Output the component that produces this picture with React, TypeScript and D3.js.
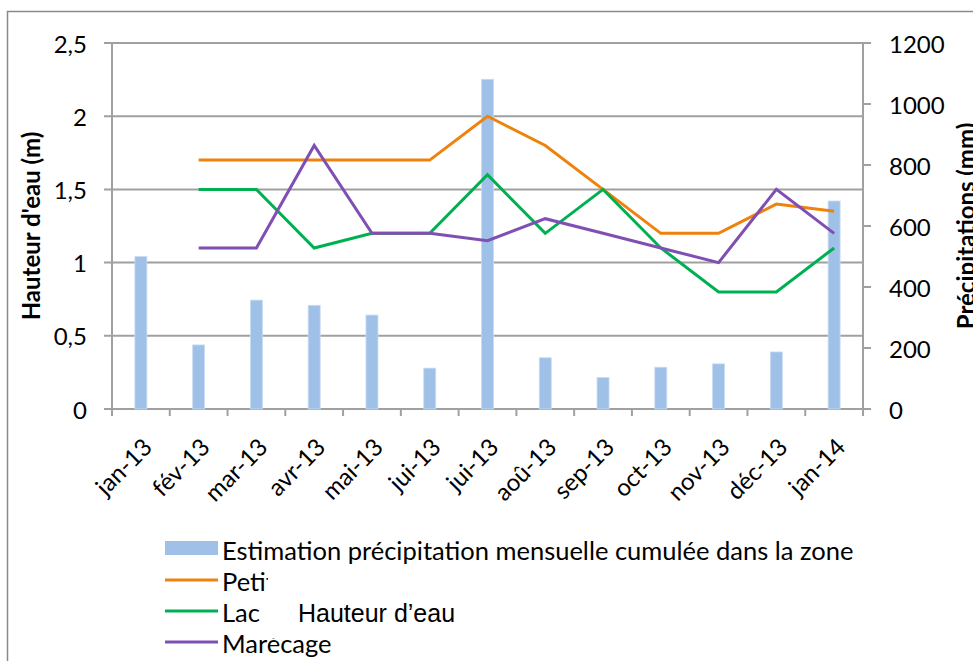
import React from 'react';
import * as d3 from 'd3';

// chart data
const months = ['jan-13', 'fév-13', 'mar-13', 'avr-13', 'mai-13', 'jui-13', 'jui-13', 'aoû-13', 'sep-13', 'oct-13', 'nov-13', 'déc-13', 'jan-14'];
const precipitation = [500, 210, 357, 340, 308, 134, 1081, 168, 103, 137, 148, 187, 682];
const petit = [null, 1.7, 1.7, 1.7, 1.7, 1.7, 2.0, 1.8, 1.5, 1.2, 1.2, 1.4, 1.35];
const lac = [null, 1.5, 1.5, 1.1, 1.2, 1.2, 1.6, 1.2, 1.5, 1.1, 0.8, 0.8, 1.1];
const marecage = [null, 1.1, 1.1, 1.8, 1.2, 1.2, 1.15, 1.3, 1.2, 1.1, 1.0, 1.5, 1.2];
const leftTicks = [0, 0.5, 1, 1.5, 2, 2.5];
const rightTicks = [0, 200, 400, 600, 800, 1000, 1200];

const font = 'Lato, "Open Sans", sans-serif';
const gridColor = '#a0a0a0';

const series = [
  { name: 'Petit', values: petit, color: '#ef820d' },
  { name: 'Lac', values: lac, color: '#00b050' },
  { name: 'Marécage', values: marecage, color: '#7f4fb3' },
];

export default function App() {
  const left = 112, right = 863, top = 43, bottom = 409;

  const x = d3.scaleBand<number>().domain(months.map((_, i) => i)).range([left, right]);
  const yL = d3.scaleLinear().domain([0, 2.5]).range([bottom, top]);
  const yR = d3.scaleLinear().domain([0, 1200]).range([bottom, top]);
  const cx = (i: number) => (x(i) as number) + x.bandwidth() / 2;

  const line = d3.line<number | null>()
    .defined(d => d != null)
    .x((_, i) => cx(i))
    .y(d => yL(d as number));

  const barW = 12;
  const boundaries = d3.range(months.length + 1).map(i => left + i * x.bandwidth());

  return (
    <svg width={973} height={661} style={{ position: 'absolute', left: 0, top: 0, background: '#fff' }}>
      {/* outer frame */}
      <path d="M7.5,661 L7.5,11.5 L973,11.5" fill="none" stroke="#8a8a8a" strokeWidth={1.5} />

      {/* gridlines + left ticks */}
      {leftTicks.map(t => (
        <line key={t} x1={104} x2={right} y1={yL(t)} y2={yL(t)} stroke={gridColor} strokeWidth={2} />
      ))}
      {leftTicks.map(t => (
        <text key={'l' + t} x={87} y={yL(t)} textAnchor="end" dominantBaseline="central"
          fontFamily={font} fontSize={24} fill="#000">{String(t).replace('.', ',')}</text>
      ))}

      {/* left axis line */}
      <line x1={left} x2={left} y1={top} y2={bottom} stroke={gridColor} strokeWidth={2} />
      {/* right axis */}
      <line x1={right} x2={right} y1={top} y2={bottom} stroke={gridColor} strokeWidth={2} />
      {rightTicks.map(t => (
        <g key={'r' + t}>
          <line x1={right} x2={871} y1={yR(t)} y2={yR(t)} stroke={gridColor} strokeWidth={2} />
          <text x={889} y={yR(t)} dominantBaseline="central" fontFamily={font} fontSize={24} fill="#000">{t}</text>
        </g>
      ))}

      {/* x axis */}
      <line x1={left - 1} x2={right + 1} y1={bottom} y2={bottom} stroke={gridColor} strokeWidth={2} />
      {boundaries.map((b, i) => (
        <line key={'b' + i} x1={b} x2={b} y1={bottom} y2={bottom + 7} stroke={gridColor} strokeWidth={2} />
      ))}
      {months.map((m, i) => (
        <text key={'m' + i} transform={`translate(${cx(i) + 6},${bottom + 33}) rotate(-45)`} textAnchor="end"
          dominantBaseline="central" fontFamily={font} fontSize={24} fill="#000">{m}</text>
      ))}

      {/* bars */}
      {precipitation.map((v, i) => (
        <rect key={'p' + i} x={cx(i) - barW / 2} y={yR(v)} width={barW} height={bottom - yR(v)}
          fill="#a0c1e7" stroke="#c9dcf2" strokeWidth={0.8} />
      ))}

      {/* lines */}
      {series.map(s => (
        <path key={s.name} d={line(s.values) as string} fill="none" stroke={s.color} strokeWidth={3} />
      ))}

      {/* axis titles */}
      <text transform={`translate(40,${(top + bottom) / 2}) rotate(-90)`} textAnchor="middle"
        fontFamily={font} fontWeight="bold" fontSize={24} fill="#000">Hauteur d'eau (m)</text>
      <text transform={`translate(975,${(top + bottom) / 2}) rotate(-90)`} textAnchor="middle"
        fontFamily={font} fontWeight="bold" fontSize={24} fill="#000">Précipitations (mm)</text>

      {/* legend */}
      <rect x={165} y={541} width={53} height={14} fill="#a0c1e7" />
      <text x={222} y={550} dominantBaseline="central" fontFamily={font} fontSize={25.5} fill="#000">
        Estimation précipitation mensuelle cumulée dans la zone
      </text>
      {series.map((s, i) => (
        <g key={'lg' + s.name}>
          <line x1={165} x2={218} y1={580 + i * 31} y2={580 + i * 31} stroke={s.color} strokeWidth={3} />
          <text x={222} y={581 + i * 31} dominantBaseline="central" fontFamily={font} fontSize={25.5} fill="#000">{s.name}</text>
        </g>
      ))}

      {/* overlapping text box */}
      <rect x={268} y={565} width={240} height={32} fill="#fff" />
      <rect x={266} y={597} width={242} height={41} fill="#fff" />
      <text x={298} y={622} fontFamily='"Liberation Sans", Arial, sans-serif' fontSize={25} fill="#000">Hauteur d’eau</text>
    </svg>
  );
}
